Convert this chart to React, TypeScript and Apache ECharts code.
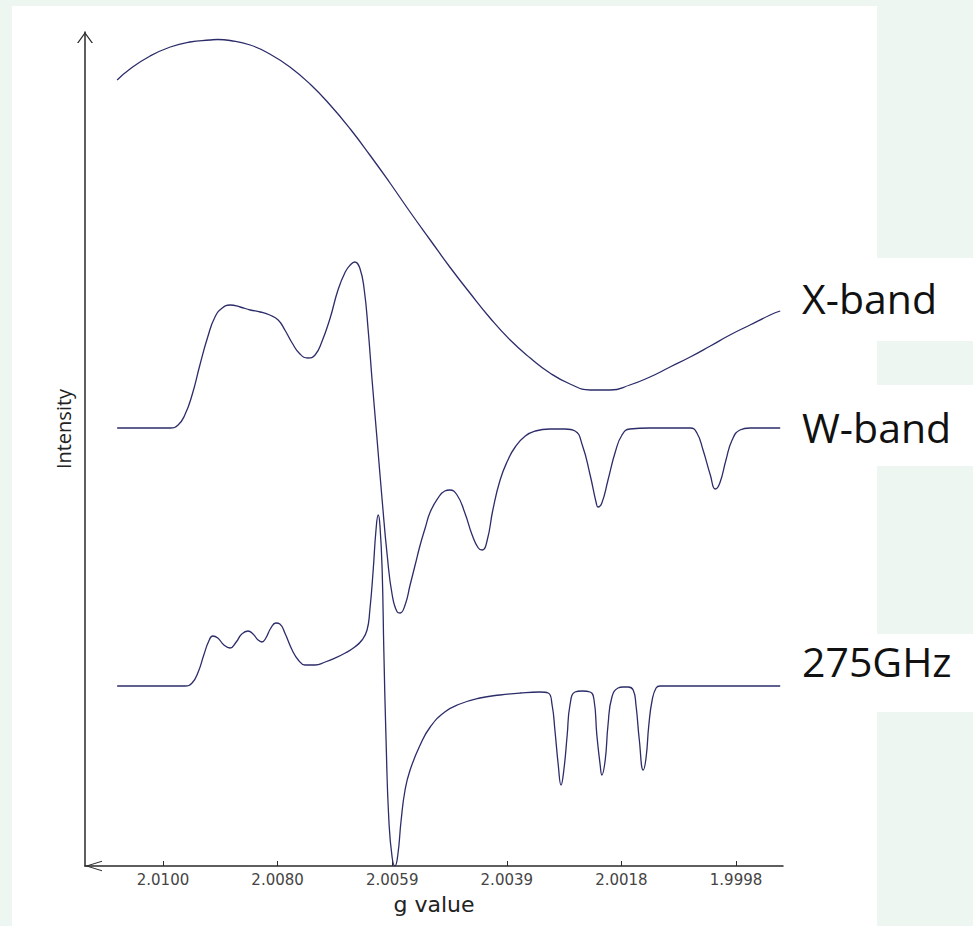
import React, { useEffect, useRef } from "react";
import * as echarts from "echarts";

// x axis tick positions (g value) and their printed labels
const gTickValues = [2.01, 2.00795, 2.0059, 2.00385, 2.0018, 1.99975];
const gTickLabels = ["2.0100", "2.0080", "2.0059", "2.0039", "2.0018", "1.9998"];

// X-band spectrum
const xBandG = [
  2.01082, 2.01059, 2.01023, 2.00987, 2.00952, 2.00916, 2.00902, 2.0088, 2.00844, 2.00809,
  2.00773, 2.00737, 2.00701, 2.00665, 2.0063, 2.00594, 2.00558, 2.00522, 2.00487, 2.00451,
  2.00415, 2.00379, 2.00343, 2.00308, 2.00272, 2.00236, 2.002, 2.00165, 2.00129, 2.00093,
  2.00057, 2.00021, 1.99986, 1.9995, 1.99914, 1.99896,
];
const xBandI = [
  78.6, 79.7, 81.0, 81.9, 82.4, 82.6, 82.65, 82.55, 82.1, 81.2,
  79.9, 78.2, 76.1, 73.7, 71.1, 68.3, 65.4, 62.6, 59.9, 57.3,
  54.8, 52.6, 50.8, 49.3, 48.2, 47.6, 47.6, 48.1, 48.9, 49.9,
  50.9, 52.0, 53.1, 54.1, 55.1, 55.5,
];

// W-band spectrum
const wBandG = [
  2.01082, 2.00987, 2.00973, 2.00961, 2.00948, 2.00934, 2.0092, 2.00907, 2.00894, 2.0088,
  2.00862, 2.00844, 2.00826, 2.00809, 2.00794, 2.00782, 2.00769, 2.00755, 2.00741, 2.00728,
  2.00716, 2.00701, 2.00687, 2.00674, 2.00665, 2.00657, 2.00648, 2.0064, 2.00633, 2.00626,
  2.00617, 2.00608, 2.00599, 2.0059, 2.00581, 2.00576, 2.00567, 2.00558, 2.00549, 2.0054,
  2.00531, 2.00522, 2.00508, 2.00496, 2.00487, 2.00474, 2.0046, 2.00447, 2.00436, 2.00429,
  2.0042, 2.0041, 2.00397, 2.00383, 2.0037, 2.00352, 2.00334, 2.00308, 2.00281, 2.00263,
  2.0025, 2.00236, 2.00225, 2.00222, 2.00215, 2.00204, 2.00191, 2.00179, 2.00165, 2.00129,
  2.00057, 2.00045, 2.00034, 2.00021, 2.00012, 2.00004, 1.99993, 1.99982, 1.99968, 1.9995,
  1.99896,
];
const wBandI = [
  43.8, 43.8, 44.1, 45.1, 47.1, 50.1, 52.9, 54.9, 55.8, 56.1,
  55.9, 55.6, 55.4, 55.1, 54.6, 53.6, 52.3, 51.2, 50.8, 51.1,
  52.4, 54.8, 57.6, 59.4, 60.1, 60.4, 59.8, 57.6, 53.6, 48.6,
  42.6, 36.6, 31.1, 27.1, 25.4, 25.3, 26.1, 28.1, 30.1, 32.1,
  33.8, 35.4, 36.8, 37.5, 37.6, 37.1, 35.3, 33.1, 31.8, 31.6,
  32.6, 35.6, 38.6, 40.6, 41.9, 43.0, 43.5, 43.7, 43.7, 43.5,
  42.1, 39.1, 36.3, 35.9, 36.3, 38.6, 41.4, 43.1, 43.7, 43.8,
  43.8, 43.3, 41.6, 39.1, 37.7, 38.3, 40.6, 42.6, 43.6, 43.8,
  43.8,
];

// 275 GHz spectrum
const ghz275G = [
  2.01082, 2.00961, 2.00948, 2.00937, 2.00927, 2.00918, 2.00911, 2.00902, 2.00891, 2.0088,
  2.00869, 2.00859, 2.00848, 2.00839, 2.0083, 2.00823, 2.00816, 2.00807, 2.00798, 2.00791,
  2.00782, 2.00769, 2.00758, 2.00746, 2.00728, 2.0071, 2.00692, 2.00674, 2.00657, 2.00644,
  2.00635, 2.0063, 2.00624, 2.00619, 2.00615, 2.00612, 2.00608, 2.00605, 2.00601, 2.00596,
  2.0059, 2.00585, 2.0058, 2.00574, 2.00567, 2.00558, 2.0054, 2.00522, 2.00496, 2.00469,
  2.00433, 2.00397, 2.00361, 2.00326, 2.00311, 2.00304, 2.00299, 2.00293, 2.00288, 2.00283,
  2.00277, 2.00272, 2.00263, 2.0025, 2.00236, 2.00229, 2.00224, 2.00218, 2.00215, 2.00209,
  2.00204, 2.00197, 2.00186, 2.00177, 2.00168, 2.00159, 2.00154, 2.00148, 2.00141, 2.00136,
  2.00131, 2.00125, 2.00118, 2.00111, 1.99896,
];
const ghz275I = [
  18.0, 18.0, 18.3, 19.4, 21.1, 22.5, 23.0, 22.8, 22.1, 21.8,
  22.4, 23.2, 23.5, 23.2, 22.6, 22.4, 22.8, 23.8, 24.3, 24.2,
  23.3, 21.6, 20.6, 20.1, 20.1, 20.4, 20.8, 21.3, 21.9, 22.6,
  23.6, 25.6, 29.6, 33.6, 35.1, 34.1, 29.6, 21.6, 12.6, 4.6,
  0.8, 0.0, 1.1, 4.6, 7.6, 9.6, 12.1, 13.9, 15.4, 16.2,
  16.8, 17.1, 17.3, 17.4, 17.3, 16.1, 13.6, 10.1, 8.1, 9.6,
  13.1, 16.1, 17.4, 17.5, 17.4, 16.6, 13.1, 10.1, 9.1, 10.6,
  14.1, 16.9, 17.8, 17.9, 17.9, 17.6, 16.1, 12.6, 9.6, 10.8,
  14.1, 16.6, 17.8, 18.0, 18.0,
];

const seriesNames = ["X-band", "W-band", "275GHz"];

const LINE_COLOR = "#2c2c6a";
const AXIS_COLOR = "#2a2a2a";
const MINT = "#edf6f1";

const upChevron = "path://M0 11 L8 0 L16 11 L14.5 11 L8 2 L1.5 11 Z";
const sideChevron = "path://M0 16 L5 0 L10 16 L9 16 L5 3 L1 16 Z";

function zip(xs: number[], ys: number[]) {
  return xs.map((x, i) => [x, ys[i]]);
}

export default function App() {
  const ref = useRef<HTMLDivElement>(null);

  useEffect(() => {
    if (!ref.current) return;
    const chart = echarts.init(ref.current, undefined, { renderer: "svg" });

    const spectra = [
      zip(xBandG, xBandI),
      zip(wBandG, wBandI),
      zip(ghz275G, ghz275I),
    ];

    const labelY = [298, 427, 661];

    chart.setOption({
      animation: false,
      backgroundColor: MINT,
      graphic: [
        { type: "rect", z: -1, silent: true, shape: { x: 12, y: 6, width: 865, height: 920 }, style: { fill: "#ffffff" } },
        { type: "rect", z: -1, silent: true, shape: { x: 877, y: 258, width: 96, height: 83 }, style: { fill: "#ffffff" } },
        { type: "rect", z: -1, silent: true, shape: { x: 877, y: 385, width: 96, height: 81 }, style: { fill: "#ffffff" } },
        { type: "rect", z: -1, silent: true, shape: { x: 877, y: 634, width: 96, height: 78 }, style: { fill: "#ffffff" } },
        ...seriesNames.map((name, i) => ({
          type: "text",
          z: 5,
          x: 802,
          y: labelY[i],
          style: {
            text: name,
            fontSize: 41,
            fontFamily: "Open Sans",
            fill: "#111111",
            align: "left",
            verticalAlign: "middle",
          },
        })),
      ],
      grid: { left: 85, right: 190, top: 32, bottom: 60, containLabel: false },
      xAxis: {
        type: "value",
        inverse: true,
        min: 1.99891,
        max: 2.011395,
        name: "g value",
        nameLocation: "middle",
        nameGap: 27,
        nameTextStyle: { fontFamily: "DejaVu Sans", fontSize: 22, color: "#222" },
        axisLine: {
          show: true,
          symbol: [sideChevron, "none"],
          symbolSize: [11, 17],
          symbolOffset: [8.5, 0],
          lineStyle: { color: AXIS_COLOR, width: 1.5 },
        },
        axisTick: {
          show: true,
          inside: true,
          length: 5,
          customValues: gTickValues,
          lineStyle: { color: AXIS_COLOR, width: 1 },
        },
        axisLabel: {
          show: true,
          customValues: gTickValues,
          margin: 6,
          fontFamily: "DejaVu Sans",
          fontSize: 15,
          color: "#444",
          formatter: (v: number) => {
            const idx = gTickValues.findIndex((t) => Math.abs(t - v) < 1e-7);
            return idx >= 0 ? gTickLabels[idx] : "";
          },
        },
        splitLine: { show: false },
      },
      yAxis: {
        type: "value",
        min: 0,
        max: 83.4,
        name: "Intensity",
        nameLocation: "middle",
        nameGap: 12,
        nameTextStyle: { fontFamily: "Open Sans", fontSize: 20, color: "#222", padding: [0, 0, 0, 40] },
        axisLine: {
          show: true,
          symbol: ["none", upChevron],
          symbolSize: [16, 11],
          symbolOffset: [0, -5.5],
          lineStyle: { color: AXIS_COLOR, width: 1.5 },
        },
        axisTick: { show: false },
        axisLabel: { show: false },
        splitLine: { show: false },
      },
      series: seriesNames.map((name, i) => ({
        name,
        type: "line",
        data: spectra[i],
        smooth: 0.5,
        showSymbol: false,
        symbol: "none",
        lineStyle: { color: LINE_COLOR, width: 1.3 },
      })),
    });

    return () => chart.dispose();
  }, []);

  return (
    <div
      ref={ref}
      style={{ position: "absolute", left: 0, top: 0, width: 973, height: 926 }}
    />
  );
}
